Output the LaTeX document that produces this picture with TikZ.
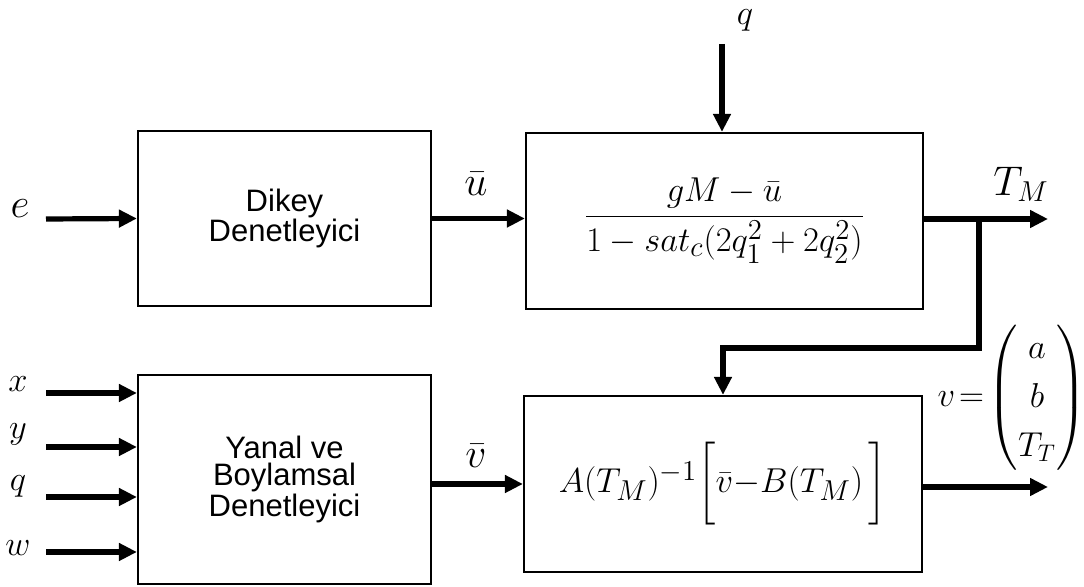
\documentclass[tikz,border=0pt]{standalone}
\usepackage{amsmath}
\usepackage{fontspec}
\newfontfamily\arialfont{Liberation Sans}
\usepackage{tikz}
\usetikzlibrary{arrows.meta, positioning, calc}

\begin{document}
\begin{tikzpicture}[x=0.5pt, y=-0.5pt,
    blok/.style={draw, line width=1.1pt, inner sep=0pt, align=center, font=\arialfont\fontsize{15.5}{13.5}\selectfont},
    ok/.style={line width=2.6pt, -{Triangle[length=9pt, width=8.5pt]}},
    etiket/.style={inner sep=0pt, font=\fontsize{20}{24}\selectfont}]
    \useasboundingbox (0,0) rectangle (1084,587);
    % bloklar
    \node[blok, minimum width=146.5pt, minimum height=87.5pt] (dikey) at (284.5,218.5) {Dikey\\Denetleyici};
    \node[blok, minimum width=198.5pt, minimum height=88pt, font=\fontsize{19}{22}\selectfont] (oran) at (724.5,221)
        {$\dfrac{gM-\bar{u}}{1-sat_c(2q_1^2+2q_2^2)}$};
    \node[blok, minimum width=146.5pt, minimum height=104.5pt] (yanal) at (284.5,479.5) {Yanal ve\\Boylamsal\\Denetleyici};
    \node[blok, minimum width=199pt, minimum height=88pt, font=\fontsize{19}{22}\selectfont] (kontrol) at (723,484)
        {$A(T_M)^{-1}\bigg[\bar{v}{-}B(T_M)\,\bigg]$};
    % dikey kol
    \coordinate (e0) at (46,219);
    \node[etiket] (e) at (20,209) {$e$};
    \draw[ok] (e0) -- (dikey.west);
    \draw[ok] (dikey.east) -- (dikey.east -| oran.west);
    \node[etiket, font=\fontsize{22}{26}\selectfont] (ubar) at (476,184) {$\bar{u}$};
    \coordinate (q0) at (722,44);
    \node[etiket, font=\fontsize{18}{22}\selectfont] (qust) at (745,20) {$q$};
    \draw[ok] (q0) -- (q0 |- oran.north);
    \coordinate (tm) at (1048,219);
    \node[etiket, font=\fontsize{22}{26}\selectfont] (tmlab) at (1021,184) {$T_M$};
    \draw[ok] (oran.east |- tm) -- (tm);
    % geri besleme
    \coordinate (dal) at (979,219);
    \coordinate (kose) at (979,348);
    \draw[ok] (dal) -- (kose) -| (kontrol.north);
    % yanal kol
    \foreach \ad/\yy/\ly in {x/393/384, y/447/434, q/497/486, w/552/548} {
        \node[etiket, font=\fontsize{18}{22}\selectfont] (l\ad) at (18,\ly) {$\ad$};
        \coordinate (g\ad) at (46,\yy);
        \draw[ok] (g\ad) -- (g\ad -| yanal.west);
    }
    \draw[ok] (yanal.east |- kontrol.west) -- (kontrol.west);
    \node[etiket, font=\fontsize{22}{26}\selectfont] (vbar) at (476,456) {$\bar{v}$};
    \coordinate (cikis) at (1048,487);
    \draw[ok] (cikis -| kontrol.east) -- (cikis);
    \node[etiket, font=\fontsize{17}{20}\selectfont] (vvek) at (1012,398)
        {$v\!=\!\renewcommand{\arraystretch}{1.22}\setlength{\arraycolsep}{3pt}\begin{pmatrix} a\\ b\\ T_T \end{pmatrix}$};
\end{tikzpicture}
\end{document}
